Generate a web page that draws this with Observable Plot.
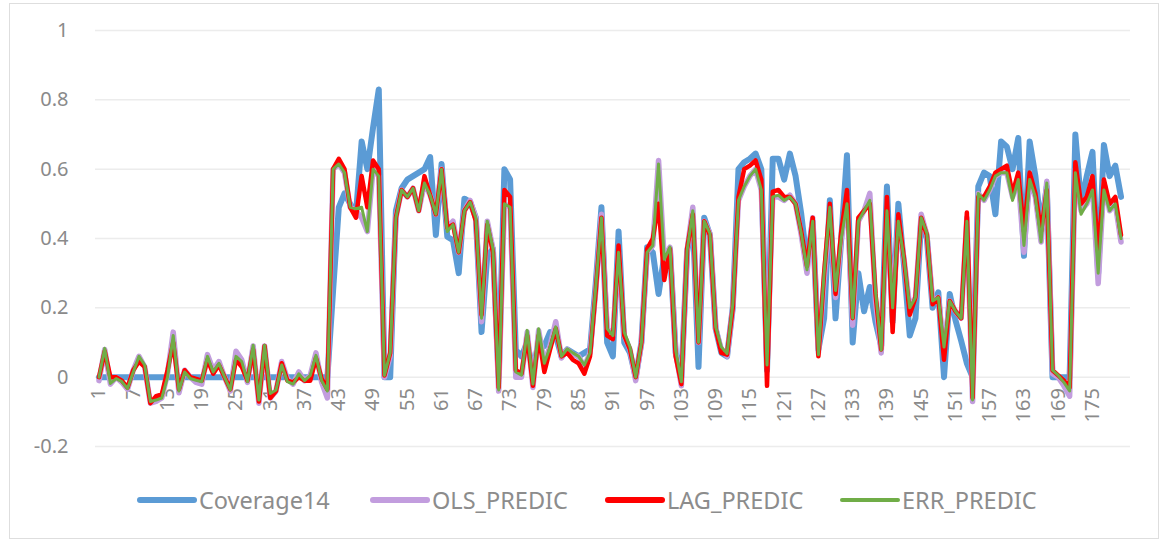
<!DOCTYPE html>
<html><head><meta charset="utf-8">
<script src="https://cdn.jsdelivr.net/npm/d3@7"></script>
<script src="https://cdn.jsdelivr.net/npm/@observablehq/plot@0.6"></script>
<style>
body{margin:0;background:#fff;font-family:"Noto Sans",sans-serif;}
#frame{position:absolute;left:9px;top:3px;width:1150px;height:536px;border:1px solid #dedede;box-sizing:border-box;}
#chart{position:absolute;left:0;top:0;}
#legend{position:absolute;left:0;top:482px;width:1168px;height:36px;}
.item{position:absolute;top:0;display:flex;align-items:center;height:36px;color:#8c8c8c;font-size:23.5px;white-space:nowrap;}
.sw{width:60px;margin-right:2px;border-radius:3px;}
</style></head><body>
<div id="frame"></div><div id="chart"></div><div id="legend"></div>
<script>
const categories = [1,2,3,4,5,6,7,8,9,10,11,12,13,14,15,16,17,18,19,20,21,22,23,24,25,26,27,28,29,30,31,32,33,34,35,36,37,38,39,40,41,42,43,44,45,46,47,48,49,50,51,52,53,54,55,56,57,58,59,60,61,62,63,64,65,66,67,68,69,70,71,72,73,74,75,76,77,78,79,80,81,82,83,84,85,86,87,88,89,90,91,92,93,94,95,96,97,98,99,100,101,102,103,104,105,106,107,108,109,110,111,112,113,114,115,116,117,118,119,120,121,122,123,124,125,126,127,128,129,130,131,132,133,134,135,136,137,138,139,140,141,142,143,144,145,146,147,148,149,150,151,152,153,154,155,156,157,158,159,160,161,162,163,164,165,166,167,168,169,170,171,172,173,174,175,176,177,178,179,180];

const coverage14 = [0,0,0,0,0,0,0,0,0,0,0,0,0,0,0,0,0,0,0,0,0,0,0,0,0,0,0,0,0,0,0,0,0,0,0,0,0,0,0,0,0,
0.25,0.49,0.53,0.5,0.47,0.68,0.6,0.72,0.83,0,0,0.48,0.545,0.57,0.58,0.59,0.6,0.635,0.41,
0.615,0.405,0.395,0.3,0.515,0.505,0.46,0.13,0.35,0.37,0,0.6,0.57,0.078,0.06,0.1,0.02,0.1,0.09,0.13,
0.12,0.06,0.08,0.07,0.06,0.07,0.08,0.27,0.49,0.1,0.06,0.42,0.1,0.07,0,0.1,0.375,0.36,0.24,0.35,
0.37,0.07,0,0.36,0.46,0.03,0.46,0.41,0.14,0.07,0.06,0.2,0.6,0.62,0.63,0.645,0.6,0.02,0.63,0.63,
0.57,0.645,0.58,0.47,0.33,0.45,0.08,0.17,0.51,0.17,0.4,0.64,0.1,0.3,0.19,0.26,0.16,0.09,0.55,0.16,
0.5,0.32,0.12,0.17,0.45,0.4,0.2,0.245,0,0.24,0.165,0.105,0.04,0,0.55,0.59,0.58,0.47,0.68,0.665,
0.6,0.69,0.35,0.68,0.58,0.43,0.55,0,0,0,0,0.7,0.5,0.58,0.65,0.3,0.67,0.58,0.61,0.52];

const olsPredic = [-0.01,0.08,-0.02,0,-0.015,-0.035,0.02,0.06,0.03,-0.075,-0.07,-0.06,0.01,0.13,-0.045,0.02,0,-0.015,-0.02,0.065,
0.02,0.045,0,-0.04,0.075,0.05,-0.015,0.09,-0.075,0.09,-0.06,-0.04,0.045,-0.005,-0.02,0.015,-0.01,0.005,0.07,-0.015,
-0.06,0.6,0.615,0.59,0.49,0.48,0.46,0.42,0.6,0.58,0,0.06,0.46,0.54,0.52,0.545,0.48,0.56,0.525,0.47,
0.6,0.43,0.45,0.36,0.48,0.51,0.46,0.16,0.45,0.37,-0.04,0.5,0.49,0,0,0.13,-0.03,0.135,0.04,0.09,
0.16,0.055,0.08,0.065,0.06,0.03,0.07,0.25,0.47,0.14,0.12,0.36,0.12,0.08,-0.01,0.1,0.36,0.38,0.625,0.34,
0.375,0.07,-0.025,0.365,0.49,0.1,0.45,0.415,0.14,0.08,0.06,0.2,0.51,0.55,0.58,0.6,0.54,0.03,0.52,0.52,
0.51,0.525,0.5,0.41,0.3,0.46,0.07,0.28,0.48,0.23,0.4,0.52,0.15,0.45,0.48,0.53,0.22,0.07,0.47,0.19,
0.45,0.34,0.2,0.23,0.47,0.41,0.22,0.23,0.08,0.22,0.19,0.17,0.46,-0.07,0.53,0.51,0.54,0.58,0.59,0.59,
0.52,0.57,0.36,0.57,0.52,0.39,0.565,0.01,0,-0.025,-0.055,0.6,0.48,0.5,0.55,0.27,0.56,0.48,0.5,0.39];

const lagPredic = [0,0.075,0,0,-0.01,-0.03,0.02,0.045,0.03,-0.075,-0.055,-0.05,0.02,0.1,-0.035,0.02,0,-0.005,-0.01,0.05,
0.01,0.035,0,-0.035,0.05,0.03,-0.01,0.08,-0.07,0.09,-0.06,-0.04,0.04,-0.01,-0.015,0,-0.01,-0.01,0.055,-0.005,
-0.035,0.6,0.63,0.6,0.49,0.46,0.58,0.49,0.625,0.6,0.005,0.07,0.46,0.54,0.52,0.545,0.48,0.58,0.525,0.47,
0.6,0.43,0.44,0.36,0.48,0.505,0.45,0.18,0.44,0.36,-0.03,0.54,0.52,0.02,0.01,0.12,-0.025,0.12,0.015,0.08,
0.14,0.06,0.07,0.05,0.04,0.01,0.06,0.25,0.46,0.12,0.11,0.38,0.12,0.08,0,0.1,0.37,0.4,0.5,0.28,
0.37,0.06,-0.02,0.37,0.47,0.1,0.45,0.41,0.14,0.07,0.065,0.2,0.52,0.6,0.61,0.625,0.57,-0.025,0.535,0.54,
0.52,0.52,0.5,0.42,0.32,0.46,0.06,0.3,0.5,0.24,0.42,0.54,0.17,0.46,0.48,0.5,0.24,0.08,0.52,0.13,
0.47,0.34,0.18,0.23,0.46,0.41,0.21,0.23,0.05,0.22,0.19,0.17,0.475,-0.06,0.52,0.52,0.55,0.59,0.6,0.61,
0.53,0.59,0.42,0.59,0.53,0.42,0.54,0.02,0.005,-0.01,-0.03,0.62,0.5,0.52,0.58,0.36,0.57,0.5,0.52,0.41];

const errPredic = [0,0.083,-0.018,-0.004,-0.013,-0.033,0.015,0.06,0.035,-0.07,-0.066,-0.06,0,0.12,-0.04,0.015,-0.004,-0.009,-0.013,0.06,
0.015,0.04,0,-0.037,0.06,0.045,-0.013,0.092,-0.066,0.092,-0.047,-0.037,0.035,-0.013,-0.02,0.01,-0.01,0.005,0.063,-0.01,
-0.04,0.6,0.615,0.59,0.49,0.486,0.49,0.42,0.6,0.58,0.005,0.07,0.46,0.54,0.52,0.545,0.48,0.56,0.525,0.47,
0.6,0.42,0.44,0.36,0.48,0.505,0.46,0.17,0.45,0.37,-0.037,0.5,0.49,0.015,0.006,0.135,-0.02,0.14,0.04,0.087,
0.145,0.06,0.082,0.07,0.06,0.035,0.07,0.26,0.46,0.14,0.12,0.36,0.13,0.087,0,0.1,0.36,0.38,0.615,0.34,
0.375,0.078,-0.013,0.365,0.48,0.1,0.45,0.415,0.145,0.087,0.068,0.21,0.51,0.55,0.58,0.6,0.54,0.035,0.52,0.525,
0.51,0.52,0.5,0.415,0.31,0.45,0.065,0.3,0.49,0.25,0.4,0.5,0.17,0.45,0.48,0.51,0.25,0.078,0.48,0.2,
0.45,0.34,0.2,0.23,0.46,0.415,0.22,0.23,0.087,0.22,0.19,0.17,0.45,-0.066,0.53,0.51,0.54,0.58,0.59,0.59,
0.51,0.57,0.38,0.57,0.52,0.39,0.56,0.02,0.005,-0.015,-0.04,0.59,0.47,0.5,0.54,0.3,0.54,0.48,0.5,0.4];

const xTickLabels = [1,7,13,19,25,31,37,43,49,55,61,67,73,79,85,91,97,103,109,115,121,127,133,139,145,151,157,163,169,175];
const yTicks = [-0.2,0,0.2,0.4,0.6,0.8,1];
const seriesNames = ["Coverage14","OLS_PREDIC","LAG_PREDIC","ERR_PREDIC"];
const seriesColors = ["#5B9BD5","#C29DDE","#FF0000","#70AD47"];

const rows = categories.map((c, i) => ({c, cov: coverage14[i], ols: olsPredic[i], lag: lagPredic[i], err: errPredic[i]}));
const lineOpts = {x: "c", strokeLinejoin: "round", strokeLinecap: "round"};
const axisColor = "#8a8a8a";

const chart = Plot.plot({
  width: 1168, height: 470,
  marginLeft: 95, marginRight: 38, marginTop: 30, marginBottom: 24,
  x: {domain: [0.387, 181.66], axis: null},
  y: {domain: [-0.2, 1], axis: null},
  style: {fontFamily: '"Noto Sans", sans-serif', background: "transparent", overflow: "visible"},
  marks: [
    Plot.ruleY(yTicks, {stroke: "#ececec", strokeWidth: 1.5}),
    Plot.text(yTicks, {y: d => d, text: d => String(+d.toFixed(1)), frameAnchor: "left", dx: -27, textAnchor: "end", fontSize: 20, fill: axisColor}),
    Plot.text(xTickLabels, {x: d => d, y: 0, text: d => String(d), rotate: -90, textAnchor: "end", dy: 11, fontSize: 20, fill: axisColor}),
    Plot.line(rows, {...lineOpts, y: "cov", stroke: seriesColors[0], strokeWidth: 6}),
    Plot.line(rows, {...lineOpts, y: "ols", stroke: seriesColors[1], strokeWidth: 5.5}),
    Plot.line(rows, {...lineOpts, y: "lag", stroke: seriesColors[2], strokeWidth: 4.5}),
    Plot.line(rows, {...lineOpts, y: "err", stroke: seriesColors[3], strokeWidth: 3})
  ]
});
document.getElementById("chart").appendChild(chart);

const legendLefts = [137, 370, 605, 840];
const swatchH = [6, 6, 6, 4];
const legend = document.getElementById("legend");
seriesNames.forEach((name, i) => {
  const item = document.createElement("div");
  item.className = "item";
  item.style.left = legendLefts[i] + "px";
  const sw = document.createElement("span");
  sw.className = "sw";
  sw.style.height = swatchH[i] + "px";
  sw.style.background = seriesColors[i];
  const t = document.createElement("span");
  t.textContent = name;
  item.appendChild(sw); item.appendChild(t);
  legend.appendChild(item);
});
</script></body></html>
